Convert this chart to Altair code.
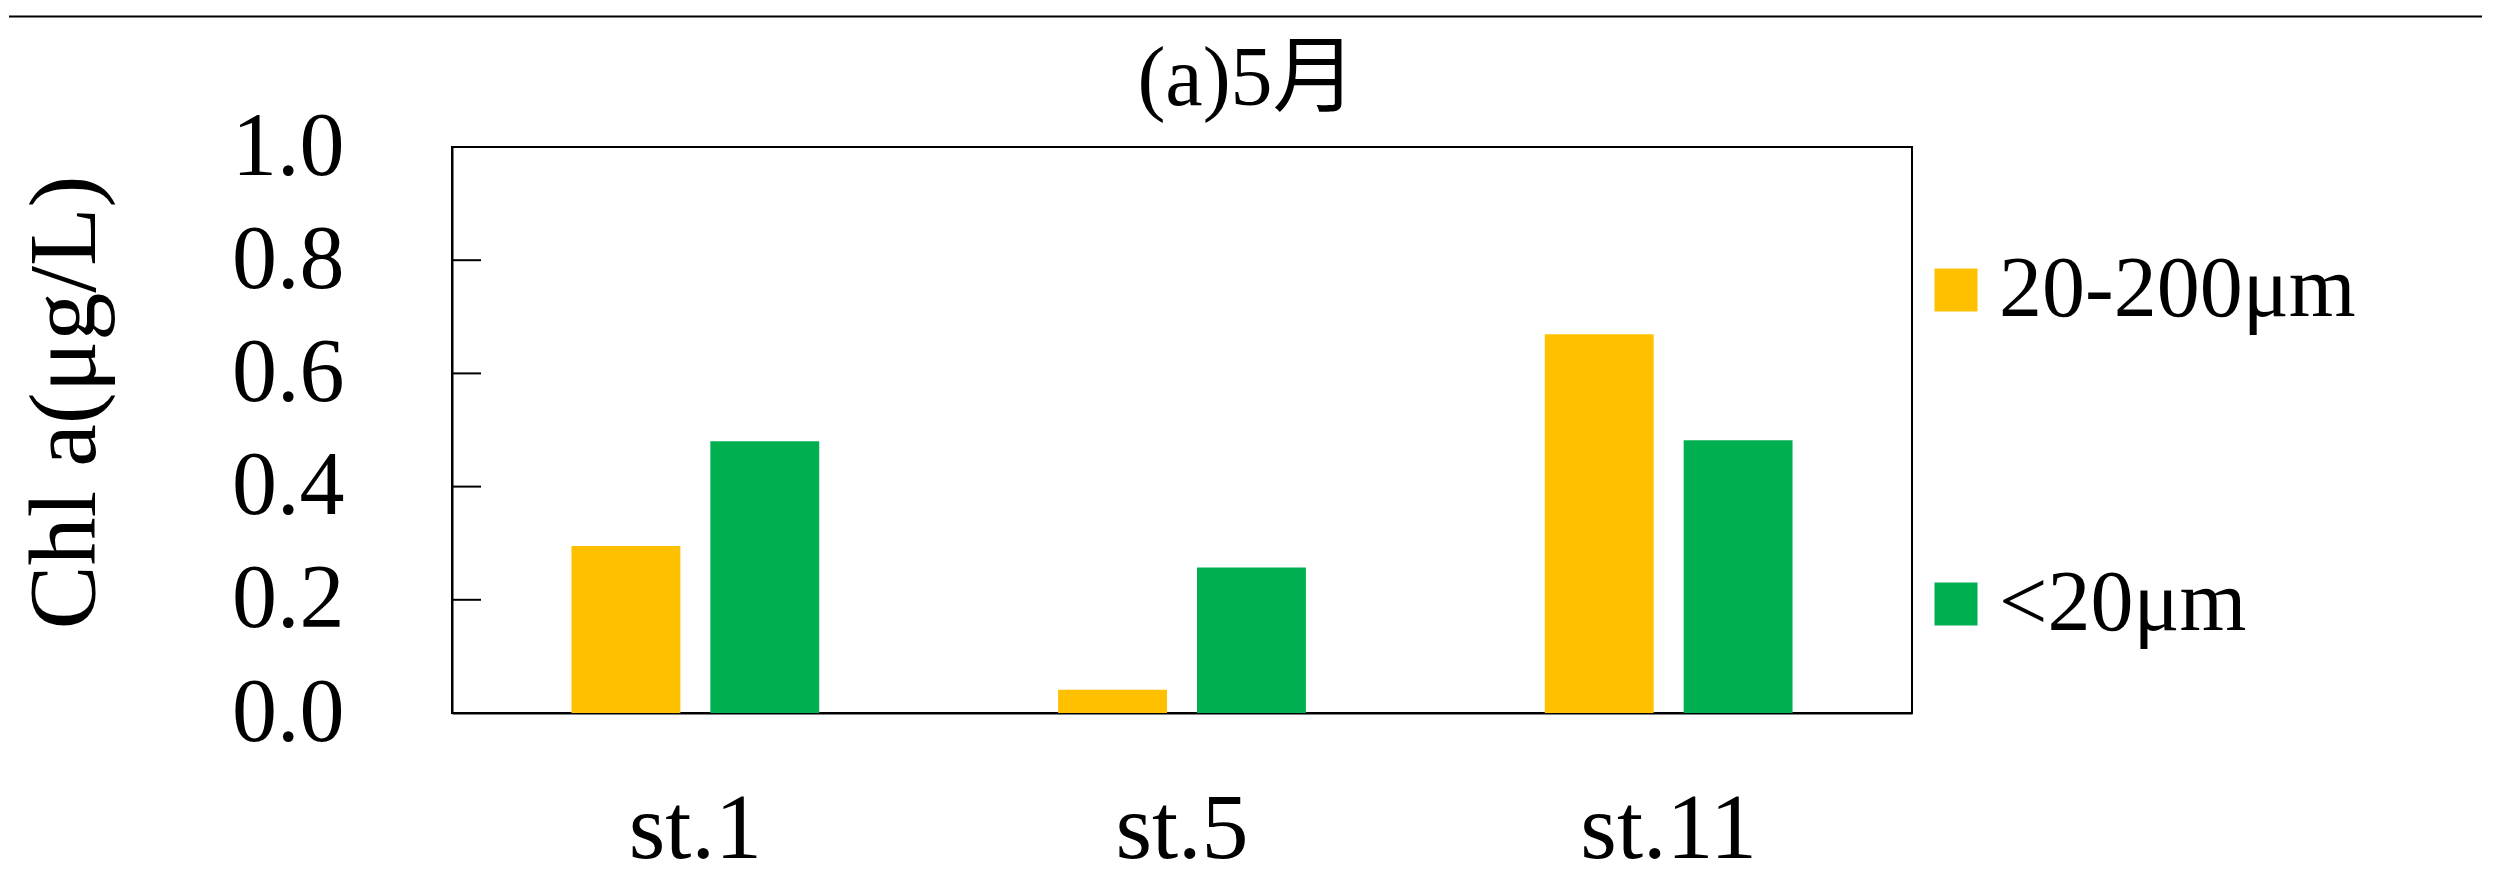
import altair as alt
import pandas as pd

stations = ["st.1", "st.5", "st.11"]
size_classes = ["20-200μm", "<20μm"]
large_vals = [0.295, 0.041, 0.669]
small_vals = [0.480, 0.257, 0.482]
colors = ["#FFC000", "#00B050"]
y_ticks = [0.0, 0.2, 0.4, 0.6, 0.8, 1.0]
inner_ticks = [0.2, 0.4, 0.6, 0.8]

rows = []
for i, s in enumerate(stations):
    rows.append({"station": s, "size": size_classes[0], "value": large_vals[i]})
    rows.append({"station": s, "size": size_classes[1], "value": small_vals[i]})
df = pd.DataFrame(rows)

SERIF = "Liberation Serif"
W, H = 1460, 566

bars = alt.Chart(df).mark_bar().encode(
    x=alt.X("station:N", sort=stations,
            scale=alt.Scale(paddingInner=0, paddingOuter=0),
            axis=alt.Axis(title=None, labelAngle=0, ticks=False, tickSize=0,
                          labelFont=SERIF, labelFontSize=94, labelColor="black",
                          labelBaseline="alphabetic", labelPadding=144,
                          domainColor="black", domainWidth=2, grid=False)),
    xOffset=alt.XOffset("size:N", sort=size_classes,
                        scale=alt.Scale(paddingInner=0.216, paddingOuter=0.86)),
    y=alt.Y("value:Q", scale=alt.Scale(domain=[0, 1], nice=False),
            axis=alt.Axis(title="Chl a(μg/L)", values=y_ticks, format=".1f",
                          ticks=False, tickSize=0, grid=False,
                          labelFont=SERIF, labelFontSize=90, labelColor="black",
                          labelPadding=108,
                          domainColor="black", domainWidth=2,
                          titleFont=SERIF, titleFontSize=96, titleFontWeight="normal",
                          titleColor="black", titleBaseline="alphabetic",
                          titleAngle=270, titleAlign="center",
                          titleX=-358, titleY=255)),
    color=alt.Color("size:N", sort=size_classes,
                    scale=alt.Scale(domain=size_classes, range=colors),
                    legend=alt.Legend(title=None, orient="none", direction="vertical",
                                      legendX=1461, legendY=100,
                                      symbolType="square", symbolSize=1849,
                                      symbolStrokeWidth=0, labelFont=SERIF,
                                      labelFontSize=86, labelColor="black",
                                      labelLimit=0,
                                      labelOffset=0, rowPadding=228, padding=0)),
)

ticks = alt.Chart(pd.DataFrame({"t": inner_ticks})).mark_rule(
    color="black", strokeWidth=2
).encode(
    y=alt.Y("t:Q"),
    x=alt.value(0),
    x2=alt.value(29),
)

top_line = alt.Chart(pd.DataFrame({"a": [0]})).mark_rule(
    color="black", strokeWidth=2
).encode(
    x=alt.value(-443),
    x2=alt.value(2030),
    y=alt.value(-130.5),
)

chart = alt.layer(bars, ticks, top_line).properties(
    width=W, height=H,
    padding={"left": 0, "top": 7, "right": 0, "bottom": 0},
    title=alt.TitleParams("(a)5月", font=f"{SERIF}, Noto Sans CJK SC",
                          fontSize=84, fontWeight="normal", color="black",
                          anchor="middle", dx=65, baseline="alphabetic",
                          offset=-173),
).configure_view(
    stroke="black", strokeWidth=2
)

chart.save("out.html", embed_options={"renderer": "svg", "actions": False})
